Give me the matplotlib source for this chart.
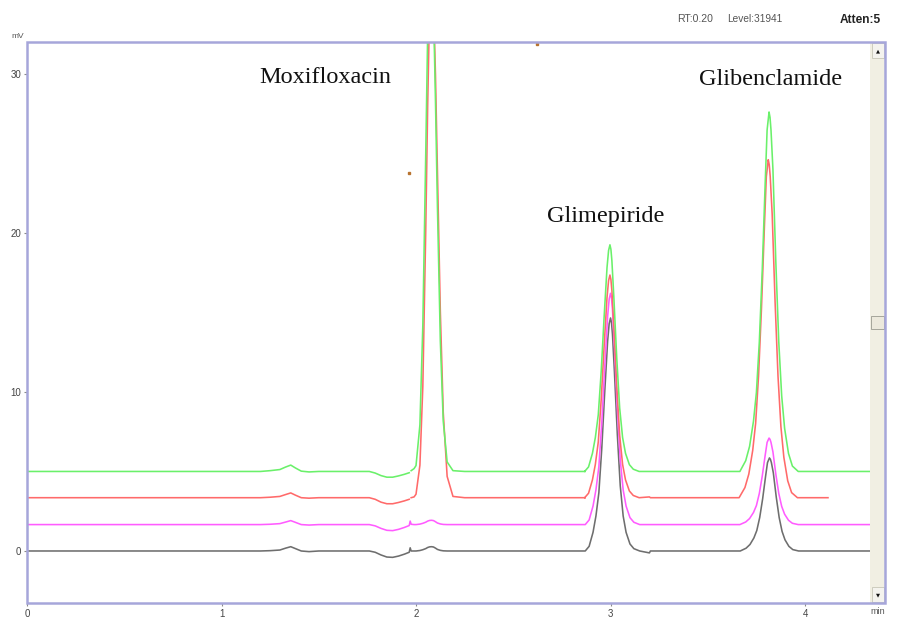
import numpy as np
import matplotlib
matplotlib.use("Agg")
import matplotlib.pyplot as plt
from matplotlib.patches import Rectangle

# ---------------- data ----------------
trace_names = ["black", "magenta", "red", "green"]
baseline_levels = [0.0, 1.66, 3.35, 5.0]          # mV offset of each trace

# early part of the run (0 - 2.87 min), deviation from each baseline
early_time = [0.00, 1.20, 1.25, 1.30, 1.33, 1.356, 1.38, 1.41, 1.45, 1.50,
              1.76, 1.79, 1.82, 1.85, 1.88, 1.91, 1.94, 1.965, 1.97, 1.975,
              1.99, 2.00, 2.02, 2.035, 2.05, 2.06, 2.07, 2.08, 2.09, 2.10,
              2.11, 2.125, 2.14, 2.16, 2.19, 2.25, 2.87]
early_black = [0.00, 0.00, 0.02, 0.06, 0.18, 0.27, 0.15, 0.00, -0.04, 0.00,
               0.00, -0.08, -0.25, -0.38, -0.40, -0.32, -0.20, -0.08, 0.20, 0.00,
               0.00, 0.00, 0.03, 0.08, 0.15, 0.22, 0.26, 0.27, 0.25, 0.18,
               0.10, 0.04, 0.01, 0.00, 0.00, 0.00, 0.00]
early_magenta = [0.00, 0.00, 0.02, 0.06, 0.16, 0.25, 0.14, 0.00, -0.03, 0.00,
                 0.00, -0.08, -0.24, -0.36, -0.38, -0.30, -0.18, -0.06, 0.22, 0.02,
                 0.00, 0.00, 0.03, 0.08, 0.15, 0.22, 0.26, 0.27, 0.25, 0.18,
                 0.10, 0.04, 0.01, 0.00, 0.00, 0.00, 0.00]
early_red = [0.00, 0.00, 0.03, 0.08, 0.20, 0.30, 0.16, 0.00, -0.03, 0.00,
             0.00, -0.10, -0.28, -0.38, -0.38, -0.30, -0.20, -0.10, np.nan, 0.00,
             0.05, 0.22, 2.04, 7.0, 16.8, 24.7, 30.9, 33.0, 31.1, 26.6,
             20.6, 11.7, 5.36, 1.34, 0.08, 0.00, 0.00]
early_green = [0.00, 0.00, 0.05, 0.12, 0.28, 0.40, 0.22, 0.02, -0.03, 0.00,
               0.00, -0.10, -0.26, -0.36, -0.36, -0.28, -0.18, -0.08, np.nan, 0.05,
               0.18, 0.37, 2.93, 9.18, 20.0, 27.6, 32.3, 32.5, 29.1, 23.3,
               16.7, 8.2, 3.16, 0.60, 0.05, 0.00, 0.00]
early_devs = [early_black, early_magenta, early_red, early_green]

# Glimepiride peak (~3.0 min)
glimepiride_rt = [3.000, 3.000, 2.997, 2.997]
glimepiride_height = [14.65, 14.54, 14.00, 14.25]
glimepiride_offsets = [-0.13, -0.11, -0.09, -0.075, -0.06, -0.045, -0.03, -0.015, -0.007, 0.0,
                       0.005, 0.01, 0.02, 0.035, 0.05, 0.065, 0.08, 0.10, 0.12, 0.15]
glimepiride_profile = [0.0, 0.02, 0.08, 0.15, 0.25, 0.44, 0.68, 0.90, 0.975, 1.0,
                       0.98, 0.93, 0.77, 0.50, 0.28, 0.15, 0.08, 0.03, 0.01, 0.0]
post_glimepiride_dev = [-0.12, 0.0, 0.05, 0.0]

# Glibenclamide peak (~3.8 min)
glibenclamide_rt = [3.817, 3.815, 3.811, 3.815]
glibenclamide_height = [5.85, 5.44, 21.25, 22.60]
glibenclamide_offsets = [-0.15, -0.12, -0.10, -0.08, -0.065, -0.05, -0.035, -0.02, -0.01, 0.0,
                         0.005, 0.01, 0.02, 0.035, 0.05, 0.065, 0.08, 0.10, 0.12, 0.15]
glibenclamide_profile = [0.0, 0.03, 0.07, 0.14, 0.22, 0.36, 0.56, 0.80, 0.95, 1.0,
                         0.985, 0.95, 0.84, 0.58, 0.36, 0.21, 0.12, 0.05, 0.015, 0.0]

trace_end_time = [4.334, 4.334, 4.118, 4.334]

stray_time = [1.964, 2.622]
stray_value = [23.77, 31.9]

peak_labels = ["Moxifloxacin", "Glimepiride", "Glibenclamide"]
x_ticks = [0, 1, 2, 3, 4]
y_ticks = [0, 10, 20, 30]

# ---------------- styles ----------------
trace_colors = ["#6e6e6e", "#ff5cff", "#ff6a6a", "#6af06a"]
frame_color = "#a6a6da"

W, H = 910, 618
fig = plt.figure(figsize=(W / 100, H / 100), dpi=100)
fig.patch.set_facecolor("white")


def fx(px):
    return px / W


def fy(py):
    return 1 - py / H


ax = fig.add_axes([fx(27), fy(603), fx(870) - fx(27), fy(42) - fy(603)])
ax.set_xlim(0, 4.334)
ax.set_ylim(-3.27, 32.0)
for s in ax.spines.values():
    s.set_visible(False)
ax.set_xticks(x_ticks)
ax.set_yticks(y_ticks)
ax.set_xticklabels([str(v) for v in x_ticks])
ax.set_yticklabels([str(v) for v in y_ticks])
ax.tick_params(direction="out", length=2.5, width=0.8, color="#8a8a8a",
               labelsize=7, labelcolor="#444444", pad=1.5)
for lab in ax.get_xticklabels() + ax.get_yticklabels():
    lab.set_family("Liberation Sans")

for i in range(4):
    base = baseline_levels[i]
    t = list(early_time)
    v = [base + d for d in early_devs[i]]
    rt = glimepiride_rt[i]
    t += [rt + o for o in glimepiride_offsets]
    v += [base + glimepiride_height[i] * p for p in glimepiride_profile]
    t += [3.20, 3.205]
    v += [base + post_glimepiride_dev[i], base]
    rt = glibenclamide_rt[i]
    t += [rt + o for o in glibenclamide_offsets]
    v += [base + glibenclamide_height[i] * p for p in glibenclamide_profile]
    t += [trace_end_time[i]]
    v += [base]
    ax.plot(t, v, color=trace_colors[i], lw=1.15, solid_joinstyle="round", zorder=2 + i)

ax.plot(stray_time, stray_value, linestyle="none", marker="s", ms=1.6,
        color="#b8732f", zorder=8, clip_on=False)

# scrollbar
sb = fig.add_axes([fx(870), fy(603), fx(885) - fx(870), fy(42) - fy(603)])
sb.set_xlim(0, 15)
sb.set_ylim(603, 42)
sb.axis("off")
sb.add_patch(Rectangle((0, 42), 15, 561, facecolor="#f1efe3", edgecolor="none"))
for (y0, glyph) in [(43, "\u25B2"), (587, "\u25BC")]:
    sb.add_patch(Rectangle((1.5, y0), 12, 15, facecolor="#f4f3ee", edgecolor="#c8c6b8", lw=0.6))
    sb.text(7.5, y0 + 7.5, glyph, fontsize=3.8, ha="center", va="center", color="#111111")
sb.add_patch(Rectangle((1.0, 316), 13, 13, facecolor="#ece9dc", edgecolor="#9a9a90", lw=0.6))

# frame
fig.add_artist(Rectangle((fx(27), fy(603)), fx(885) - fx(27), fy(42) - fy(603),
                         transform=fig.transFigure, fill=False,
                         edgecolor=frame_color, lw=1.8, zorder=10))

# header texts
fig.text(fx(677), fy(19), "RT:0.20", fontsize=7.6, color="#555555", va="center",
         family="Liberation Sans")
fig.text(fx(727), fy(19), "Level:31941", fontsize=7.3, color="#555555", va="center",
         family="Liberation Sans")
fig.text(fx(840), fy(20), "Atten:5", fontsize=8.6, color="#222222", va="center",
         fontweight="bold", family="Liberation Sans")
fig.text(fx(11), fy(36), "mV", fontsize=6, color="#555555", va="center",
         family="Liberation Sans")
fig.text(fx(878), fy(612), "min", fontsize=6.5, color="#555555", va="center", ha="center",
         family="Liberation Sans")

# compound labels
label_pos = [(325, 83), (606, 222), (771, 85)]
for name, (px, py) in zip(peak_labels, label_pos):
    fig.text(fx(px), fy(py), name, fontsize=17.5, family="Liberation Serif",
             ha="center", va="baseline", color="#111111")

fig.savefig("out.png", dpi=100)
